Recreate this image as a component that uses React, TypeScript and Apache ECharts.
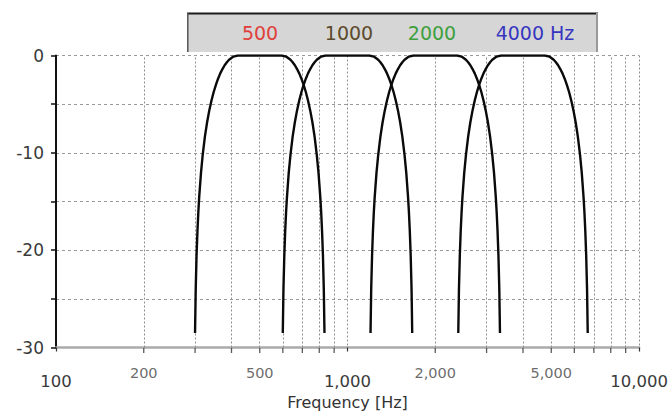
import React, { useEffect, useRef } from 'react';
import * as echarts from 'echarts';

// Octave-band filter responses (dB) shared point-by-point by the four bands
const responseDb = [
  -28.5, -24.04, -20.53, -18.04, -16.11, -14.55, -12.09, -10.2, -8.34, -6.86, -5.64, -4.62,
  -3.75, -3.01, -2.38, -1.84, -1.39, -1.0, -0.69, -0.44, -0.11, 0, 0,
  0, -0.11, -0.44, -0.69, -1.0, -1.39, -1.84, -2.38, -3.01, -3.75, -4.62, -5.64, -6.86,
  -8.34, -10.2, -12.09, -14.55, -16.11, -18.04, -20.53, -24.04, -28.5,
];

const freq500 = [
  299.9, 301.5, 303.5, 305.7, 307.8, 309.9, 314.3, 318.6, 324.2, 329.9, 335.6, 341.5,
  347.5, 353.6, 359.7, 366.0, 372.4, 378.9, 385.6, 392.3, 406.1, 420.4, 500,
  594.6, 615.6, 637.3, 648.4, 659.8, 671.3, 683.0, 695.0, 707.1, 719.5, 732.0, 744.8, 757.9,
  771.1, 784.6, 795.5, 806.6, 812.3, 817.9, 823.6, 829.3, 833.7,
];
const freq1000 = [
  599.8, 602.9, 607.1, 611.3, 615.6, 619.9, 628.5, 637.3, 648.4, 659.8, 671.3, 683.0,
  695.0, 707.1, 719.5, 732.0, 744.8, 757.9, 771.1, 784.6, 812.3, 840.9, 1000,
  1189.2, 1231.1, 1274.6, 1296.8, 1319.5, 1342.6, 1366.0, 1389.9, 1414.2, 1438.9, 1464.1,
  1489.7, 1515.7, 1542.2, 1569.2, 1591.1, 1613.3, 1624.5, 1635.8, 1647.2, 1658.7, 1667.3,
];
const freq2000 = [
  1199.5, 1205.8, 1214.2, 1222.6, 1231.1, 1239.7, 1257.0, 1274.6, 1296.8, 1319.5, 1342.6,
  1366.0, 1389.9, 1414.2, 1438.9, 1464.1, 1489.7, 1515.7, 1542.2, 1569.2, 1624.5, 1681.8, 2000,
  2378.4, 2462.3, 2549.1, 2593.7, 2639.0, 2685.1, 2732.1, 2779.9, 2828.4, 2877.9, 2928.2,
  2979.3, 3031.4, 3084.4, 3138.3, 3182.1, 3226.5, 3249.0, 3271.6, 3294.4, 3317.3, 3334.6,
];
const freq4000 = [
  2399.1, 2411.6, 2428.4, 2445.3, 2462.3, 2479.4, 2514.0, 2549.1, 2593.7, 2639.0, 2685.2,
  2732.1, 2779.8, 2828.4, 2877.8, 2928.2, 2979.4, 3031.4, 3084.4, 3138.3, 3249.0, 3363.6, 4000,
  4756.8, 4924.6, 5098.2, 5187.4, 5278.0, 5370.3, 5464.2, 5559.7, 5656.9, 5755.7, 5856.3,
  5958.7, 6062.9, 6168.8, 6276.7, 6364.2, 6453.1, 6498.0, 6543.2, 6588.8, 6634.6, 6669.2,
];

const bandFreqs = [freq500, freq1000, freq2000, freq4000];
const bandLabels = ['500', '1000', '2000', '4000 Hz'];
const bandColors = ['#e0403c', '#5c4a2c', '#3da03d', '#3636c0'];

const minorFreqs = [
  200, 300, 400, 500, 600, 700, 800, 900,
  2000, 3000, 4000, 5000, 6000, 7000, 8000, 9000,
];
const minorLabelFreqs = [200, 500, 2000, 5000];

const FONT = '"DejaVu Sans", Verdana, sans-serif';

const withCommas = (v: number) =>
  String(Math.round(v)).replace(/\B(?=(\d{3})+(?!\d))/g, ',');

export default function App() {
  const ref = useRef<HTMLDivElement>(null);

  useEffect(() => {
    if (!ref.current) return;
    const chart = echarts.init(ref.current, undefined, { renderer: 'svg' });

    const curveSeries = bandFreqs.map((fs, i) => ({
      name: bandLabels[i],
      type: 'line',
      data: fs.map((f, j) => [f, responseDb[j]]),
      showSymbol: false,
      symbol: 'none',
      smooth: false,
      silent: true,
      z: 5,
      lineStyle: { color: '#0a0a0a', width: 2.4 },
    }));

    const option = {
      animation: false,
      grid: {
        left: 56,
        right: 33,
        top: 55.5,
        bottom: 65.5,
        containLabel: false,
        outerBoundsMode: 'none',
      },
      xAxis: {
        type: 'log',
        logBase: 10,
        min: 100,
        max: 10000,
        name: 'Frequency [Hz]',
        nameLocation: 'middle',
        nameGap: 47,
        nameTextStyle: { fontFamily: FONT, fontSize: 16, color: '#333' },
        axisLine: { show: true, onZero: false, lineStyle: { color: '#aaaaaa', width: 2.5 } },
        axisTick: { show: true, length: 4, lineStyle: { color: '#333', width: 1.2 } },
        axisLabel: {
          margin: 25,
          fontFamily: FONT,
          fontSize: 16.5,
          color: '#3a3a3a',
          formatter: (v: number) => withCommas(v),
        },
        splitLine: { show: true, lineStyle: { type: [2, 2], color: '#8e8e8e', width: 1 } },
        minorTick: { show: false },
        minorSplitLine: { show: false },
      },
      yAxis: {
        type: 'value',
        min: -30,
        max: 0,
        interval: 5,
        axisLine: { show: true, onZero: false, lineStyle: { color: '#111', width: 2 } },
        axisTick: { show: true, length: 5, lineStyle: { color: '#111', width: 1.5 } },
        axisLabel: {
          margin: 12,
          fontFamily: FONT,
          fontSize: 17,
          color: '#3a3a3a',
          formatter: (v: number) => (v % 10 === 0 ? String(v) : ''),
        },
        splitLine: { show: true, lineStyle: { type: [3, 3], color: '#9a9a9a', width: 1 } },
      },
      series: [
        {
          name: 'minorTicks',
          type: 'scatter',
          data: minorFreqs.map((f) => [f, -30]),
          symbol: 'rect',
          symbolSize: [1.3, 5],
          symbolOffset: [0, 3],
          itemStyle: { color: '#333' },
          silent: true,
          clip: false,
          z: 4,
          markLine: {
            silent: true,
            symbol: 'none',
            animation: false,
            label: { show: false },
            lineStyle: { type: [2, 2], color: '#8e8e8e', width: 1 },
            data: minorFreqs.map((f) => ({ xAxis: f })),
          },
        },
        {
          name: 'minorLabels',
          type: 'scatter',
          data: minorLabelFreqs.map((f) => [f, -30]),
          symbolSize: 0,
          silent: true,
          clip: false,
          itemStyle: { color: 'transparent' },
          label: {
            show: true,
            position: 'bottom',
            distance: 18,
            fontFamily: FONT,
            fontSize: 14.5,
            color: '#444',
            formatter: (p: any) => withCommas(p.value[0]),
          },
        },
        ...curveSeries,
      ],
      graphic: [
        {
          type: 'rect',
          z: 100,
          shape: { x: 187, y: 13, width: 411, height: 39 },
          style: { fill: '#d6d6d6' },
        },
        {
          type: 'line',
          z: 101,
          shape: { x1: 187, y1: 13.5, x2: 598, y2: 13.5 },
          style: { stroke: '#1c1c1c', lineWidth: 2 },
        },
        {
          type: 'line',
          z: 101,
          shape: { x1: 187.8, y1: 13, x2: 187.8, y2: 52 },
          style: { stroke: '#555', lineWidth: 1.5 },
        },
        {
          type: 'line',
          z: 101,
          shape: { x1: 597, y1: 13, x2: 597, y2: 52 },
          style: { stroke: '#9a9a9a', lineWidth: 2 },
        },
        ...[260, 349, 432, 535].map((cx, i) => ({
          type: 'text',
          z: 102,
          x: cx,
          y: 33,
          style: {
            text: bandLabels[i],
            fill: bandColors[i],
            fontFamily: FONT,
            fontSize: 19,
            align: 'center',
            verticalAlign: 'middle',
            textAlign: 'center',
            textVerticalAlign: 'middle',
          },
        })),
      ],
    };

    chart.setOption(option as any);
    return () => chart.dispose();
  }, []);

  return (
    <div
      ref={ref}
      style={{ position: 'fixed', left: 0, top: 0, width: 672, height: 413, background: '#fff' }}
    />
  );
}
